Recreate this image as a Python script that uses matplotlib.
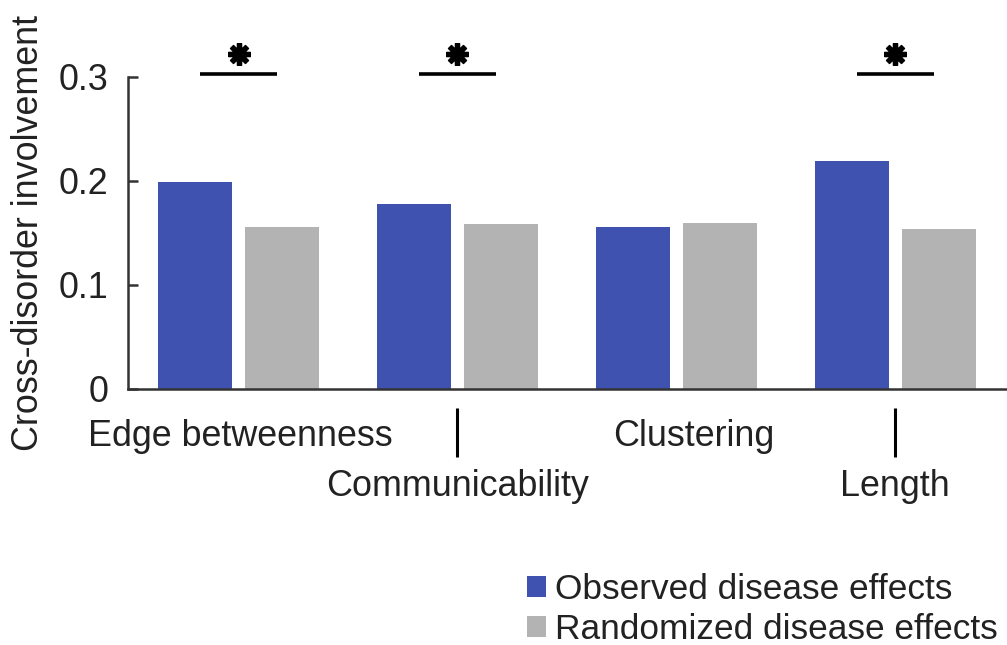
"""Cross-disorder involvement: observed vs randomized disease effects."""

import matplotlib

matplotlib.use("Agg")
import matplotlib.pyplot as plt
import matplotlib.transforms as mtransforms
import numpy as np
from matplotlib.patches import Patch

categories = ["Edge betweenness", "Communicability", "Clustering", "Length"]
observed = [0.199, 0.178, 0.156, 0.219]
randomized = [0.156, 0.159, 0.160, 0.154]
significant = [True, True, False, True]
series_labels = ["Observed disease effects", "Randomized disease effects"]

BLUE = "#4052b0"
GRAY = "#b3b3b3"
TEXT = "#222222"
SPINE = "#333333"

plt.rcParams.update(
    {
        "font.family": ["Liberation Sans", "DejaVu Sans"],
        "font.size": 25.8,
        "text.color": TEXT,
        "axes.labelcolor": TEXT,
        "xtick.color": SPINE,
        "ytick.color": SPINE,
        "xtick.labelcolor": TEXT,
        "ytick.labelcolor": TEXT,
    }
)

fig = plt.figure(figsize=(10.07, 6.45), dpi=100)
ax = fig.add_axes([128 / 1007, 256 / 645, (1007 - 128) / 1007, 312 / 645])

x = np.arange(len(categories))
offset = 43.5 / 219
width = 74 / 219
ax.bar(x - offset, observed, width, color=BLUE, linewidth=0)
ax.bar(x + offset, randomized, width, color=GRAY, linewidth=0)

ax.set_xlim(-0.505, 3.51)
ax.set_ylim(0, 0.3)
ax.set_yticks([0, 0.1, 0.2, 0.3])
ax.set_yticklabels(["0", "0.1", "0.2", "0.3"])
ax.tick_params(axis="y", direction="in", length=7, width=1.8, pad=14)
ax.set_xticks([])
ax.set_ylabel("Cross-disorder involvement", labelpad=9)

for side in ("top", "right"):
    ax.spines[side].set_visible(False)
for side in ("left", "bottom"):
    ax.spines[side].set_color(SPINE)
    ax.spines[side].set_linewidth(1.8)

# staggered category labels under the axis
trans = mtransforms.blended_transform_factory(ax.transData, ax.transAxes)
px = 1 / 312
label_shift = [0.01, 0.0, 0.078, 0.0]
for i, name in enumerate(categories):
    if i % 2 == 0:
        ax.text(i + label_shift[i], -48 * px, name, transform=trans,
                ha="center", va="center", clip_on=False)
    else:
        ax.text(i + label_shift[i], -98 * px, name, transform=trans,
                ha="center", va="center", clip_on=False)
        ax.plot([i, i], [-19 * px, -68 * px], transform=trans, color="black",
                lw=2.2, clip_on=False, solid_capstyle="butt")

# significance markers
for i, sig in enumerate(significant):
    if not sig:
        continue
    ax.plot([i - 0.176, i + 0.176], [0.303, 0.303], color="black", lw=2.6,
            clip_on=False, solid_capstyle="butt")
    ax.plot([i], [0.3225], marker=(8, 2, 0), markersize=16, mew=3.8,
            color="black", clip_on=False)

handles = [Patch(facecolor=BLUE, edgecolor="none"),
           Patch(facecolor=GRAY, edgecolor="none")]
fig.legend(handles, series_labels, loc="upper left",
           bbox_to_anchor=(527 / 1007, 1 - 573 / 645), frameon=False,
           fontsize=25.4, handlelength=0.53, handleheight=0.53,
           handletextpad=0.25, labelspacing=0.2, borderpad=0,
           borderaxespad=0)

fig.savefig("out.png", dpi=100)
